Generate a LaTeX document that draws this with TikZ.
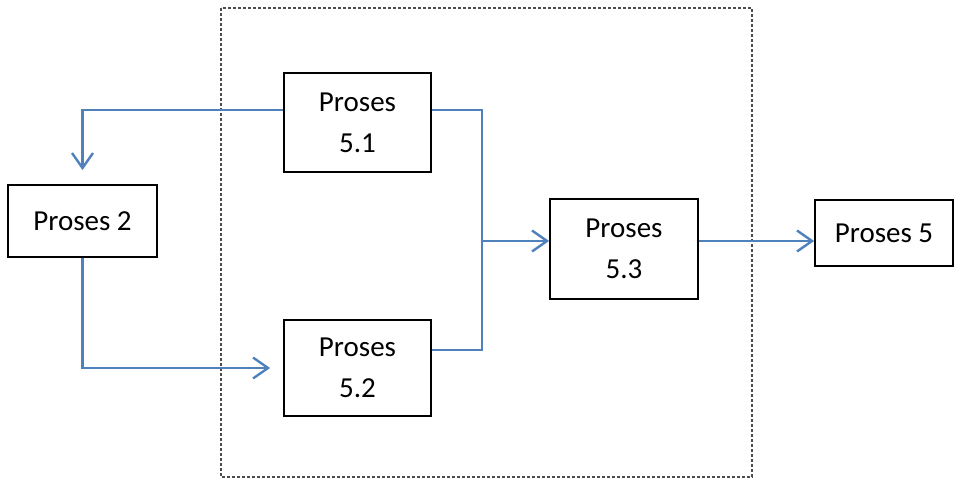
\documentclass[tikz,border=0pt]{standalone}
\usepackage{fontspec}
\setmainfont{Carlito}
\usetikzlibrary{arrows.meta}
\definecolor{flowblue}{HTML}{4F81BD}
\begin{document}
\begin{tikzpicture}[
  x=1pt, y=-1pt,
  box/.style = {shape=rectangle, draw=black, line width=1.8pt, align=center,
    inner sep=0pt, font=\fontsize{29}{41}\selectfont},
  flow/.style = {draw=flowblue, line width=2.4pt,
    -{Straight Barb[length=15pt,width=21pt,line width=2.4pt]}},
  line/.style = {draw=flowblue, line width=2.4pt},
  frame/.style = {draw=gray!60!black, line width=1.4pt, dash pattern=on 3pt off 2pt}
  ]
  \useasboundingbox (0,0) rectangle (956,478);
  \draw[frame] (221,8) rectangle (752,477);
  \node[box, minimum width=147pt, minimum height=99pt] (p51) at (357.5,122.5) {Proses\\5.1};
  \node[box, minimum width=147pt, minimum height=96pt] (p52) at (357.5,368) {Proses\\5.2};
  \node[box, minimum width=148pt, minimum height=100pt] (p53) at (624,249) {Proses\\5.3};
  \node[box, minimum width=149pt, minimum height=72pt] (p2) at (82.5,221) {Proses 2};
  \node[box, minimum width=138pt, minimum height=66pt] (p5) at (884,233) {Proses 5};
  \coordinate (join) at (482,241);
  \draw[flow] ([yshift=12.5pt]p51.west) -| ([yshift=14pt]p2.north);
  \draw[flow] (p2.south) |- ([xshift=-13pt]p52.west);
  \draw[line] ([yshift=12.5pt]p51.east) -| (join) |- ([yshift=18pt]p52.east);
  \draw[flow] (join) -- (join -| p53.west);
  \draw[flow] (join -| p53.east) -- (join -| p5.west);
\end{tikzpicture}
\end{document}
